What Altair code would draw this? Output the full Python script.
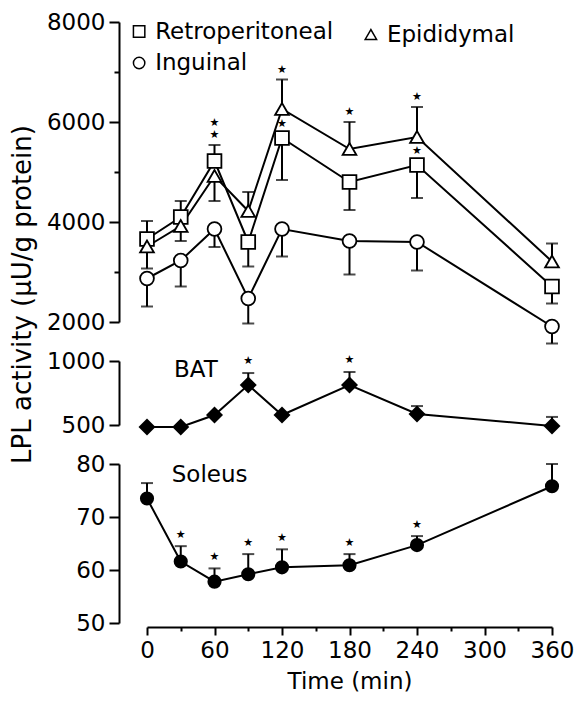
import altair as alt
import pandas as pd

# ---------------- data ----------------
times = [0, 30, 60, 90, 120, 180, 240, 360]

retro = [3660, 4100, 5220, 3600, 5680, 4800, 5140, 2710]
retro_err = [4020, 4420, 5540, 3110, 4840, 4240, 4480, 2370]
epi = [3510, 3920, 4920, 4220, 6260, 5460, 5700, 3210]
epi_err = [3070, 3620, 4420, 4600, 6850, 6000, 6300, 3570]
ing = [2870, 3230, 3860, 2470, 3860, 3620, 3600, 1910]
ing_err = [2310, 2710, 3500, 1970, 3310, 2950, 3030, 1570]

bat = [485, 485, 578, 812, 578, 812, 586, 492]
bat_err = [485, 485, 578, 906, 578, 914, 648, 563]

soleus = [73.5, 61.6, 57.8, 59.2, 60.5, 60.9, 64.7, 75.8]
soleus_err = [76.4, 64.5, 60.3, 63.0, 63.9, 63.0, 66.4, 80.0]

series_names = ["Retroperitoneal", "Epididymal", "Inguinal"]
series_shapes = ["square", "triangle-up", "circle"]

# key (legend) entries placed inside the top panel, in data units
key_time = [-7, 199, -7]
key_value = [7810, 7750, 7180]

# significance stars: (time, series whose top is used, stack level)
wat_stars = [(60, "Retroperitoneal", 0), (60, "Retroperitoneal", 1),
             (120, "Epididymal", 0), (120, "Retroperitoneal", 0),
             (180, "Epididymal", 0), (240, "Epididymal", 0),
             (240, "Retroperitoneal", 0)]
bat_star_times = [90, 180]
soleus_star_times = [30, 60, 90, 120, 180, 240]

panel_labels = {"BAT": (24, 930), "Soleus": (22, 77.9)}

FONT = "DejaVu Sans"
FS = 23
W = 405
STAR = "\u2605"

# ---------------- tables ----------------
rows = []
for name, vals, errs in zip(series_names, [retro, epi, ing], [retro_err, epi_err, ing_err]):
    for t, v, e in zip(times, vals, errs):
        rows.append({"time": t, "value": v, "err": e, "series": name})
wat = pd.DataFrame(rows)

key_df = pd.DataFrame({"series": series_names, "time": key_time, "value": key_value})

srows = []
for t, s, lvl in wat_stars:
    r = wat[(wat.time == t) & (wat.series == s)].iloc[0]
    if lvl == 1:
        kind = "stack"
    elif r.err > r.value:
        kind = "bar"
    else:
        kind = "point"
    srows.append({"time": t, "y": max(r.value, r.err), "kind": kind})
wat_star_df = pd.DataFrame(srows)

bat_df = pd.DataFrame({"time": times, "value": bat, "err": bat_err})
bat_star_df = bat_df[bat_df.time.isin(bat_star_times)]
sol_df = pd.DataFrame({"time": times, "value": soleus, "err": soleus_err})
sol_star_df = sol_df[sol_df.time.isin(soleus_star_times)]

# ---------------- shared pieces ----------------
x_scale = alt.Scale(domain=[0, 360], nice=False, zero=False)
x_none = alt.X("time:Q", scale=x_scale, axis=None)

ycommon = dict(offset=28, domainColor="black", domainWidth=2, tickColor="black",
               tickWidth=2, labelFont=FONT, labelFontSize=FS, labelColor="black",
               labelPadding=4, grid=False, format="d", labelFlush=False)


def err_layers(df, ycol, y2col, yenc_scale, axis):
    d = df[df[y2col] != df[ycol]]
    rule = alt.Chart(d).mark_rule(color="black", strokeWidth=2).encode(
        x=x_none, y=alt.Y(f"{ycol}:Q", scale=yenc_scale, axis=axis), y2=f"{y2col}:Q")
    cap = alt.Chart(d).mark_tick(color="black", orient="horizontal", size=12,
                                 thickness=2).encode(
        x=x_none, y=alt.Y(f"{y2col}:Q", scale=yenc_scale, axis=axis))
    return [rule, cap]


# ---------------- panel 1: white adipose tissue ----------------
y1_scale = alt.Scale(domain=[2000, 8000], nice=False, zero=False)
y1_axis = alt.Axis(values=list(range(2000, 8001, 1000)),
                   labelExpr="datum.value % 2000 === 0 ? datum.label : ''",
                   tickSize={"condition": {"test": "datum.value % 2000 === 0", "value": 10},
                             "value": 5},
                   title=None, **ycommon)
shape_scale = alt.Scale(domain=series_names, range=series_shapes)

p1_layers = err_layers(wat, "value", "err", y1_scale, y1_axis)
p1_line = alt.Chart(wat).mark_line(color="black", strokeWidth=2).encode(
    x=x_none, y=alt.Y("value:Q", scale=y1_scale, axis=y1_axis), detail="series:N")
p1_pts = alt.Chart(wat).mark_point(filled=True, fill="white", stroke="black",
                                   strokeWidth=1.8, opacity=1, fillOpacity=1,
                                   size=190).encode(
    x=x_none,
    y=alt.Y("value:Q", scale=y1_scale, axis=y1_axis),
    shape=alt.Shape("series:N", scale=shape_scale, legend=None),
)
key_pts = alt.Chart(key_df).mark_point(filled=True, fill="white", stroke="black",
                                       strokeWidth=1.5, opacity=1, fillOpacity=1,
                                       size=130).encode(
    x=x_none,
    y=alt.Y("value:Q", scale=y1_scale, axis=y1_axis),
    shape=alt.Shape("series:N", scale=shape_scale, legend=None),
)
key_txt = alt.Chart(key_df).mark_text(font=FONT, fontSize=FS, color="black", align="left",
                                      baseline="middle", dx=16).encode(
    x=x_none, y=alt.Y("value:Q", scale=y1_scale, axis=y1_axis), text="series:N")

star_kw = dict(text=STAR, font=FONT, fontSize=11, color="black", baseline="middle",
               align="center")
p1_star_bar = alt.Chart(wat_star_df[wat_star_df.kind == "bar"]).mark_text(dy=-10, **star_kw).encode(
    x=x_none, y=alt.Y("y:Q", scale=y1_scale, axis=y1_axis))
p1_star_pt = alt.Chart(wat_star_df[wat_star_df.kind == "point"]).mark_text(dy=-14, **star_kw).encode(
    x=x_none, y=alt.Y("y:Q", scale=y1_scale, axis=y1_axis))
p1_star_stk = alt.Chart(wat_star_df[wat_star_df.kind == "stack"]).mark_text(dy=-22, **star_kw).encode(
    x=x_none, y=alt.Y("y:Q", scale=y1_scale, axis=y1_axis))

p1 = alt.layer(*p1_layers, p1_line, p1_pts, p1_star_bar, p1_star_pt, p1_star_stk,
               key_pts, key_txt).properties(width=W, height=300)

# ---------------- panel 2: BAT ----------------
y2_scale = alt.Scale(domain=[500, 1000], nice=False, zero=False)
y2_axis = alt.Axis(values=[500, 1000], tickSize=10,
                   title="LPL activity (\u03bcU/g protein)", titleFont=FONT,
                   titleFontSize=26, titleFontWeight="normal", titleColor="black",
                   titleAngle=270, titleAlign="center", titleBaseline="middle",
                   titleX=-97, titleY=-67, **ycommon)
p2_layers = err_layers(bat_df, "value", "err", y2_scale, y2_axis)
p2_line = alt.Chart(bat_df).mark_line(color="black", strokeWidth=2).encode(
    x=x_none, y=alt.Y("value:Q", scale=y2_scale, axis=y2_axis))
p2_pts = alt.Chart(bat_df).mark_point(shape="diamond", filled=True, color="black",
                                      size=289, opacity=1).encode(
    x=x_none, y=alt.Y("value:Q", scale=y2_scale, axis=y2_axis))
p2_star = alt.Chart(bat_star_df).mark_text(dy=-12, **star_kw).encode(
    x=x_none, y=alt.Y("err:Q", scale=y2_scale, axis=y2_axis))
lab_bat = pd.DataFrame({"time": [panel_labels["BAT"][0]], "y": [panel_labels["BAT"][1]],
                        "label": ["BAT"]})
p2_lab = alt.Chart(lab_bat).mark_text(font=FONT, fontSize=FS, color="black", align="left",
                                      baseline="middle").encode(
    x=x_none, y=alt.Y("y:Q", scale=y2_scale, axis=y2_axis), text="label:N")
p2 = alt.layer(*p2_layers, p2_line, p2_pts, p2_star, p2_lab).properties(width=W, height=64)

# ---------------- panel 3: Soleus ----------------
y3_scale = alt.Scale(domain=[50, 80], nice=False, zero=False)
y3_axis = alt.Axis(values=[50, 60, 70, 80], tickSize=10, title=None, **ycommon)
x_axis = alt.Axis(values=list(range(0, 361, 30)),
                  labelExpr="datum.value % 60 === 0 ? datum.label : ''",
                  tickSize={"condition": {"test": "datum.value % 60 === 0", "value": 8},
                            "value": 4},
                  offset=4, domainColor="black", domainWidth=2, tickColor="black",
                  tickWidth=2, labelFont=FONT, labelFontSize=FS, labelColor="black",
                  labelPadding=4, grid=False, format="d", labelFlush=False,
                  title="Time (min)", titleFont=FONT, titleFontSize=FS,
                  titleFontWeight="normal", titleColor="black", titlePadding=8)
x_show = alt.X("time:Q", scale=x_scale, axis=x_axis)

d3 = sol_df[sol_df.err != sol_df.value]
p3_rule = alt.Chart(d3).mark_rule(color="black", strokeWidth=2).encode(
    x=x_show, y=alt.Y("value:Q", scale=y3_scale, axis=y3_axis), y2="err:Q")
p3_cap = alt.Chart(d3).mark_tick(color="black", orient="horizontal", size=12,
                                 thickness=2).encode(
    x=x_show, y=alt.Y("err:Q", scale=y3_scale, axis=y3_axis))
p3_line = alt.Chart(sol_df).mark_line(color="black", strokeWidth=2).encode(
    x=x_show, y=alt.Y("value:Q", scale=y3_scale, axis=y3_axis))
p3_pts = alt.Chart(sol_df).mark_point(shape="circle", filled=True, color="black",
                                      size=200, opacity=1).encode(
    x=x_show, y=alt.Y("value:Q", scale=y3_scale, axis=y3_axis))
p3_star = alt.Chart(sol_star_df).mark_text(dy=-11, **star_kw).encode(
    x=x_show, y=alt.Y("err:Q", scale=y3_scale, axis=y3_axis))
lab_sol = pd.DataFrame({"time": [panel_labels["Soleus"][0]], "y": [panel_labels["Soleus"][1]],
                        "label": ["Soleus"]})
p3_lab = alt.Chart(lab_sol).mark_text(font=FONT, fontSize=FS, color="black", align="left",
                                      baseline="middle").encode(
    x=x_show, y=alt.Y("y:Q", scale=y3_scale, axis=y3_axis), text="label:N")
p3 = alt.layer(p3_rule, p3_cap, p3_line, p3_pts, p3_star, p3_lab).properties(
    width=W, height=159)

chart = alt.vconcat(p1, p2, p3, spacing=39, bounds="flush").properties(
    padding={"left": 0, "top": 3, "right": 0, "bottom": 5}
).configure(font=FONT, background="white").configure_view(strokeWidth=0, stroke="transparent")

chart.save("out.html", embed_options={"renderer": "svg", "actions": False})
